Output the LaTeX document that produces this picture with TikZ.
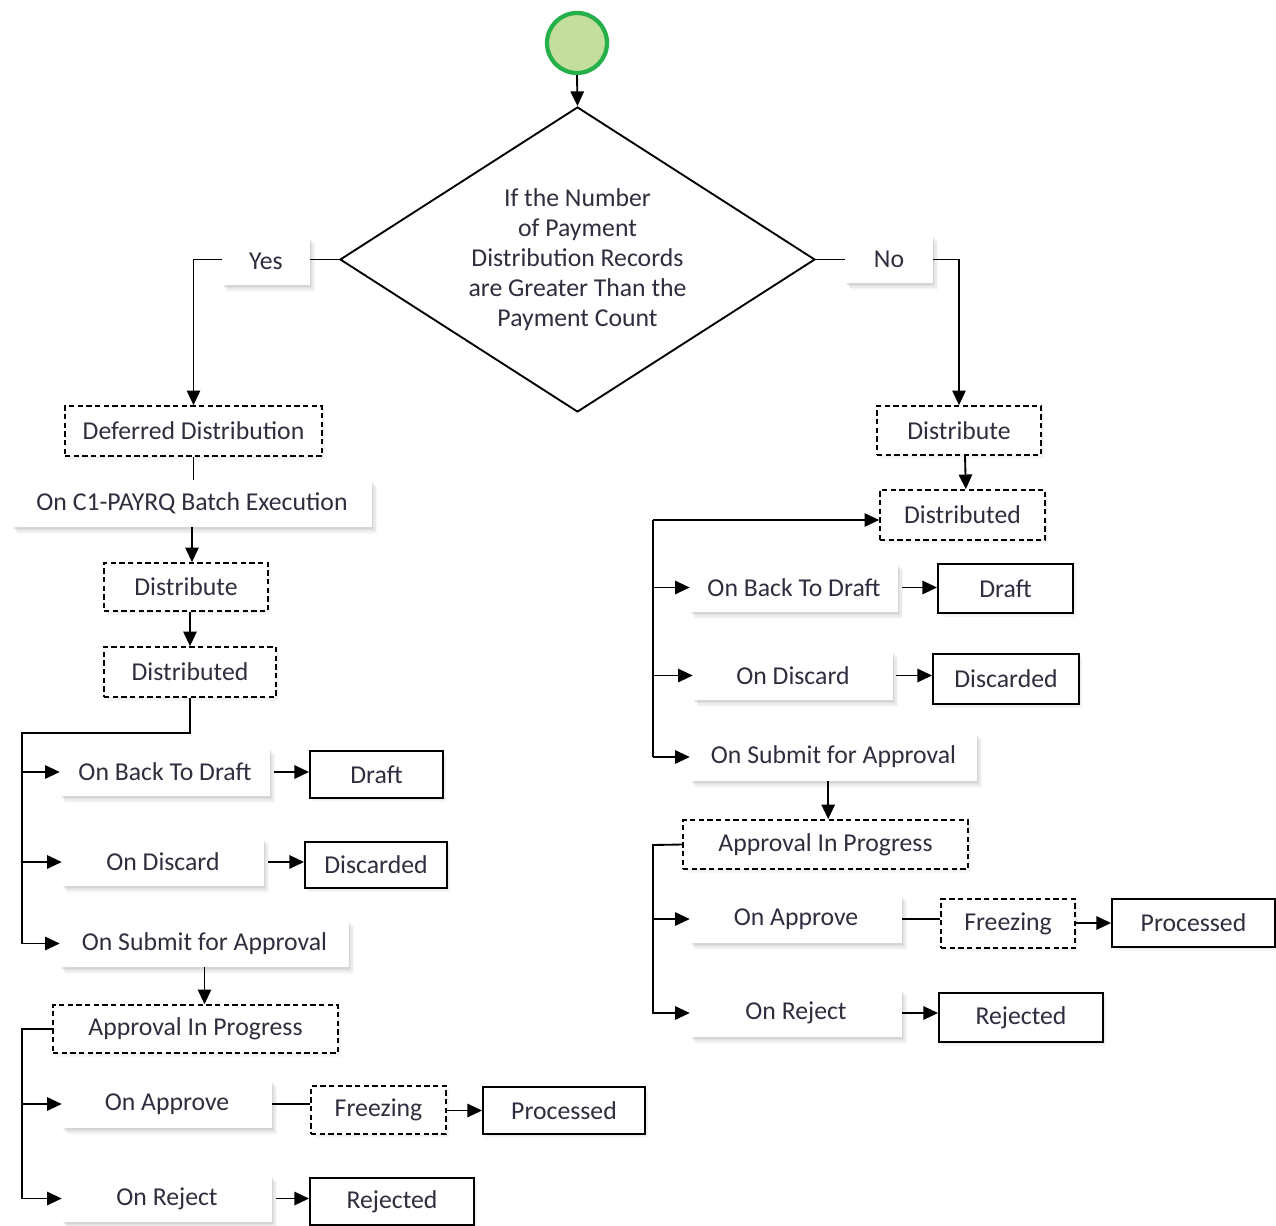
\documentclass[tikz,border=0pt]{standalone}
\usepackage{fontspec}
\setmainfont{Carlito}
\usetikzlibrary{shapes.geometric,arrows.meta,shadows}
\definecolor{txt}{HTML}{2E2E3E}
\definecolor{startfill}{HTML}{C4DE9E}
\definecolor{startline}{HTML}{25B04A}
\begin{document}
\begin{tikzpicture}[x=0.75pt,y=-0.75pt,
  every node/.style={font=\fontsize{19.3}{22.5}\selectfont, text=txt, inner sep=0pt},
  sz/.style 2 args={minimum width=#1*0.75pt, minimum height=#2*0.75pt},
  evt/.style={rectangle, fill=white,
    drop shadow={shadow xshift=0.8pt, shadow yshift=-1.2pt, opacity=0.10},
    drop shadow={shadow xshift=1.8pt, shadow yshift=-2.5pt, opacity=0.10},
    drop shadow={shadow xshift=2.8pt, shadow yshift=-3.8pt, opacity=0.10},
    drop shadow={shadow xshift=3.8pt, shadow yshift=-5pt, opacity=0.06}},
  dstate/.style={rectangle, draw=black, line width=1.2pt, dash pattern=on 4pt off 2.5pt, fill=white,
    drop shadow={shadow xshift=1.2pt, shadow yshift=-1.5pt, opacity=0.07},
    drop shadow={shadow xshift=2.4pt, shadow yshift=-3pt, opacity=0.06}},
  sstate/.style={rectangle, draw=black, line width=1.4pt, fill=white,
    drop shadow={shadow xshift=1.2pt, shadow yshift=-1.5pt, opacity=0.08},
    drop shadow={shadow xshift=2.4pt, shadow yshift=-3pt, opacity=0.07}},
  conn/.style={draw=black, line width=1.4pt},
  arr/.style={conn, -{Triangle[length=11pt,width=10pt]}}
]
\fill[white] (0,0) rectangle (1276,1226);
\useasboundingbox (0,0) rectangle (1276,1226);

% start and decision
\node[circle, fill=startfill, draw=startline, line width=3.2pt, sz={60}{60}] (start) at (577,43) {};
\node[diamond, draw=black, line width=1.4pt, fill=white, aspect=1.557, sz={475}{305}, align=center] (dia) at (577.5,259.5)
  {If the Number\\of Payment\\Distribution Records\\are Greater Than the\\Payment Count};
\node[evt, sz={88}{48}] (yes) at (266,261) {Yes};
\node[evt, sz={88}{48}] (no) at (889,259) {No};

% left branch
\node[dstate, sz={257}{50}] (dd) at (193.5,431) {Deferred Distribution};
\node[evt, sz={360}{47}] (c1) at (192,503.5) {On C1-PAYRQ Batch Execution};
\node[dstate, sz={164}{48}] (ldist) at (186,587) {Distribute};
\node[dstate, sz={172}{50}] (ldistd) at (190,672) {Distributed};
\node[evt, sz={210}{48}] (lbtd) at (165,772) {On Back To Draft};
\node[sstate, sz={133}{47}] (ldraft) at (376.5,774.5) {Draft};
\node[evt, sz={202}{48}] (ldisc) at (163,862) {On Discard};
\node[sstate, sz={142}{46}] (ldiscd) at (376,865) {Discarded};
\node[evt, sz={289}{47}] (lsub) at (204.5,943.5) {On Submit for Approval};
\node[dstate, sz={285}{48}] (lapi) at (195.5,1029) {Approval In Progress};
\node[evt, sz={210}{48}] (lapp) at (167,1104) {On Approve};
\node[dstate, sz={135}{48}] (lfrz) at (378.5,1110) {Freezing};
\node[sstate, sz={162}{47}] (lproc) at (564,1110.5) {Processed};
\node[evt, sz={210}{47}] (lrej) at (167,1198.5) {On Reject};
\node[sstate, sz={164}{47}] (lrejd) at (392,1201.5) {Rejected};

% right branch
\node[dstate, sz={164}{49}] (rdist) at (959,430.5) {Distribute};
\node[dstate, sz={165}{50}] (rdistd) at (962.5,515) {Distributed};
\node[evt, sz={208}{49}] (rbtd) at (794,587.5) {On Back To Draft};
\node[sstate, sz={135}{49}] (rdraft) at (1005.5,588.5) {Draft};
\node[evt, sz={200}{49}] (rdisc) at (793,675.5) {On Discard};
\node[sstate, sz={146}{50}] (rdiscd) at (1006,679) {Discarded};
\node[evt, sz={287}{48}] (rsub) at (833.5,757) {On Submit for Approval};
\node[dstate, sz={285}{49}] (rapi) at (825.5,844.5) {Approval In Progress};
\node[evt, sz={212}{48}] (rapp) at (796,919) {On Approve};
\node[dstate, sz={134}{49}] (rfrz) at (1008,923.5) {Freezing};
\node[sstate, sz={163}{48}] (rproc) at (1193.5,923) {Processed};
\node[evt, sz={212}{48}] (rrej) at (796,1013) {On Reject};
\node[sstate, sz={164}{49}] (rrejd) at (1021,1017.5) {Rejected};

% bend points
\coordinate (lbus1) at (22,733);
\coordinate (lbus2) at (22,1029);
\coordinate (rbus1) at (653,520);
\coordinate (rbus2) at (653,845);

% top connectors
\draw[arr] (start.south) -- (dia.north);
\draw[conn] (dia.west) -- (dia.west -| yes.east);
\draw[arr] (yes.west |- dia.west) -| (dd.north);
\draw[conn] (dia.east) -- (dia.east -| no.west);
\draw[arr] (no.east |- dia.east) -| (rdist.north);

% left connectors
\draw[conn] (dd.south) -- (dd.south |- c1.north);
\draw[arr] (c1.south) -- (c1.south |- ldist.north);
\draw[arr] (ldistd.north |- ldist.south) -- (ldistd.north);
\draw[arr] (ldistd.south) |- (lbus1) |- (lsub.west);
\draw[arr] (lbus1 |- lbtd.west) -- (lbtd.west);
\draw[arr] (lbus1 |- ldisc.west) -- (ldisc.west);
\draw[arr] ([xshift=3pt]lbtd.east) -- (lbtd.east -| ldraft.west);
\draw[arr] ([xshift=3pt]ldisc.east) -- (ldisc.east -| ldiscd.west);
\draw[arr] (lsub.south) -- (lsub.south |- lapi.north);
\draw[arr] (lapi.west) -- (lbus2) |- (lrej.west);
\draw[arr] (lbus2 |- lapp.west) -- (lapp.west);
\draw[conn] (lapp.east) -- (lapp.east -| lfrz.west);
\draw[arr] (lfrz.east |- lproc.west) -- (lproc.west);
\draw[arr] ([xshift=3pt]lrej.east) -- (lrej.east -| lrejd.west);

% right connectors
\draw[arr] ([xshift=4.5pt]rdist.south) -- ([xshift=2.5pt]rdistd.north);
\draw[arr] (rbus1 |- rsub.west) -- (rsub.west);
\draw[conn] (rbus1 |- rsub.west) -- (rbus1);
\draw[arr] (rbus1) -- (rbus1 -| rdistd.west);
\draw[arr] (rbus1 |- rbtd.west) -- (rbtd.west);
\draw[arr] (rbus1 |- rdisc.west) -- (rdisc.west);
\draw[arr] ([xshift=3pt]rbtd.east) -- (rbtd.east -| rdraft.west);
\draw[arr] ([xshift=2pt]rdisc.east) -- (rdisc.east -| rdiscd.west);
\draw[arr] ([xshift=-4pt]rsub.south) -- ([xshift=2pt]rapi.north);
\draw[arr] (rapi.west) -- (rbus2) |- (rrej.west);
\draw[arr] (rbus2 |- rapp.west) -- (rapp.west);
\draw[conn] (rapp.east) -- (rapp.east -| rfrz.west);
\draw[arr] (rfrz.east |- rproc.west) -- (rproc.west);
\draw[arr] (rrej.east) -- (rrej.east -| rrejd.west);
\end{tikzpicture}
\end{document}
